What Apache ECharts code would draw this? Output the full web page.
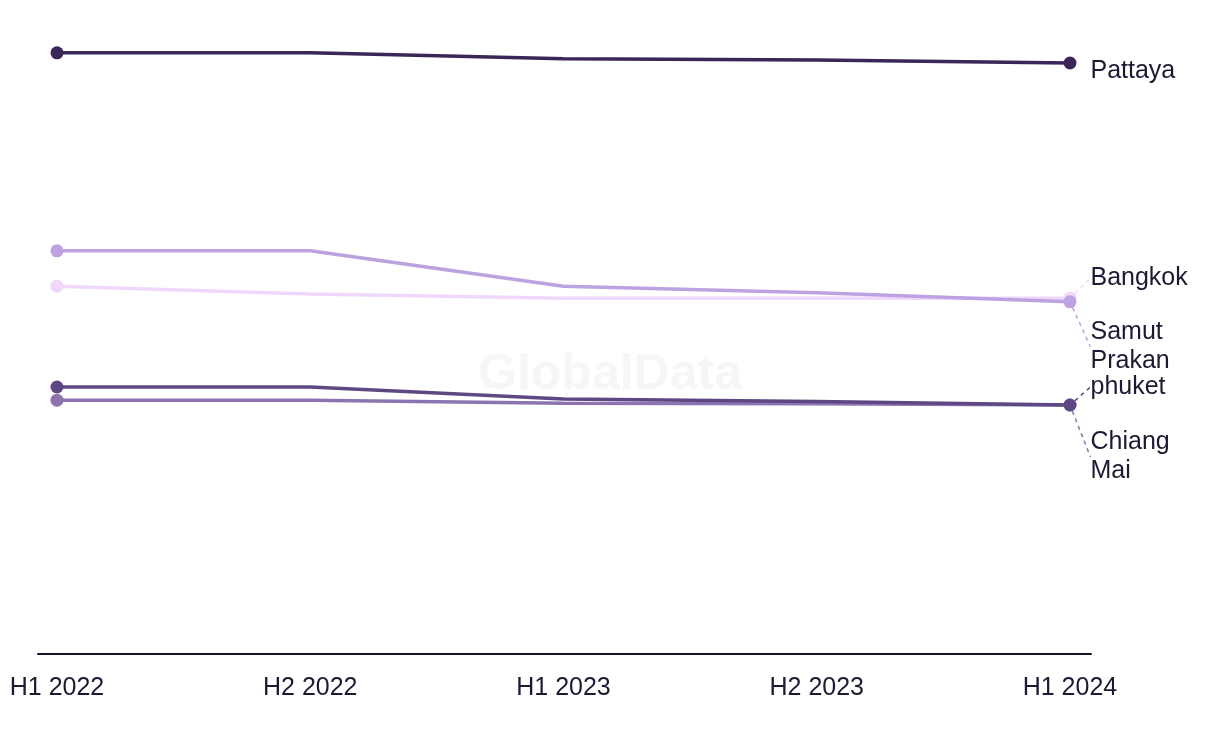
<!DOCTYPE html>
<html>
<head>
<meta charset="utf-8">
<script src="https://cdn.jsdelivr.net/npm/echarts@6/dist/echarts.min.js"></script>
<style>
html,body{margin:0;padding:0;background:#fff;}
#chart{width:1220px;height:744px;}
</style>
</head>
<body>
<div id="chart"></div>
<script>
var categories = ['H1 2022', 'H2 2022', 'H1 2023', 'H2 2023', 'H1 2024'];
var pattaya = [100.2, 100.2, 99.2, 99.0, 98.5];
var bangkok = [61.3, 60.0, 59.3, 59.3, 59.3];
var samutPrakan = [67.2, 67.2, 61.3, 60.2, 58.7];
var phuket = [44.5, 44.5, 42.5, 42.1, 41.5];
var chiangMai = [42.3, 42.3, 41.8, 41.7, 41.5];

var seriesDefs = [
  { name: 'Pattaya', label: 'Pattaya', data: pattaya, color: '#3b2658', dy: 8, leader: false },
  { name: 'Bangkok', label: 'Bangkok', data: bangkok, color: '#f0d8fc', dy: -20, leader: true },
  { name: 'Samut Prakan', label: 'Samut\nPrakan', data: samutPrakan, color: '#bda2e1', dy: 45, leader: true },
  { name: 'Chiang Mai', label: 'Chiang\nMai', data: chiangMai, color: '#8c74b0', dy: 52, leader: true },
  { name: 'phuket', label: 'phuket', data: phuket, color: '#5e4883', dy: -18, leader: true }
];

var FONT = '"Liberation Sans", Arial, sans-serif';
var TEXT = '#1b1a33';

var series = seriesDefs.map(function (s) {
  var last = s.data.length - 1;
  return {
    name: s.name,
    type: 'line',
    showSymbol: true,
    symbol: function (val, params) {
      return (params.dataIndex === 0 || params.dataIndex === last) ? 'circle' : 'none';
    },
    symbolSize: 13,
    lineStyle: { width: 3.5, color: s.color },
    itemStyle: { color: s.color },
    emphasis: { disabled: true },
    data: s.data.map(function (v, i) {
      var item = { value: [i, v] };
      if (i === last) {
        item.label = {
          show: true,
          position: 'right',
          distance: 14,
          formatter: s.label,
          color: TEXT,
          fontFamily: FONT,
          fontSize: 25,
          lineHeight: 29
        };
        item.labelLine = {
          show: s.leader,
          length2: 0,
          lineStyle: { type: [4, 4], width: 1.5, color: s.color }
        };
      }
      return item;
    }),
    labelLayout: { dy: s.dy },
    labelLine: { show: s.leader, lineStyle: { type: [4, 4], width: 1.5, color: s.color } }
  };
});

var chart = echarts.init(document.getElementById('chart'), null, { renderer: 'canvas' });
chart.setOption({
  animation: false,
  backgroundColor: '#ffffff',
  graphic: [{
    type: 'text',
    left: 'center',
    top: 350,
    z: -10,
    style: {
      text: 'GlobalData',
      fontFamily: FONT,
      fontWeight: 'bold',
      fontSize: 50,
      fill: '#f6f6f6'
    }
  }],
  grid: { left: 38, right: 129, top: 24, bottom: 90, containLabel: false },
  xAxis: {
    type: 'value',
    min: -0.075,
    max: 4.083,
    splitLine: { show: false },
    axisLine: { show: true, lineStyle: { color: '#14142b', width: 2 } },
    axisTick: { show: false },
    axisLabel: {
      customValues: [0, 1, 2, 3, 4],
      formatter: function (v) { return categories[Math.round(v)]; },
      color: TEXT,
      fontFamily: FONT,
      fontSize: 25,
      margin: 22
    }
  },
  yAxis: {
    type: 'value',
    min: 0,
    max: 105,
    show: false,
    splitLine: { show: false }
  },
  series: series
});
</script>
</body>
</html>
